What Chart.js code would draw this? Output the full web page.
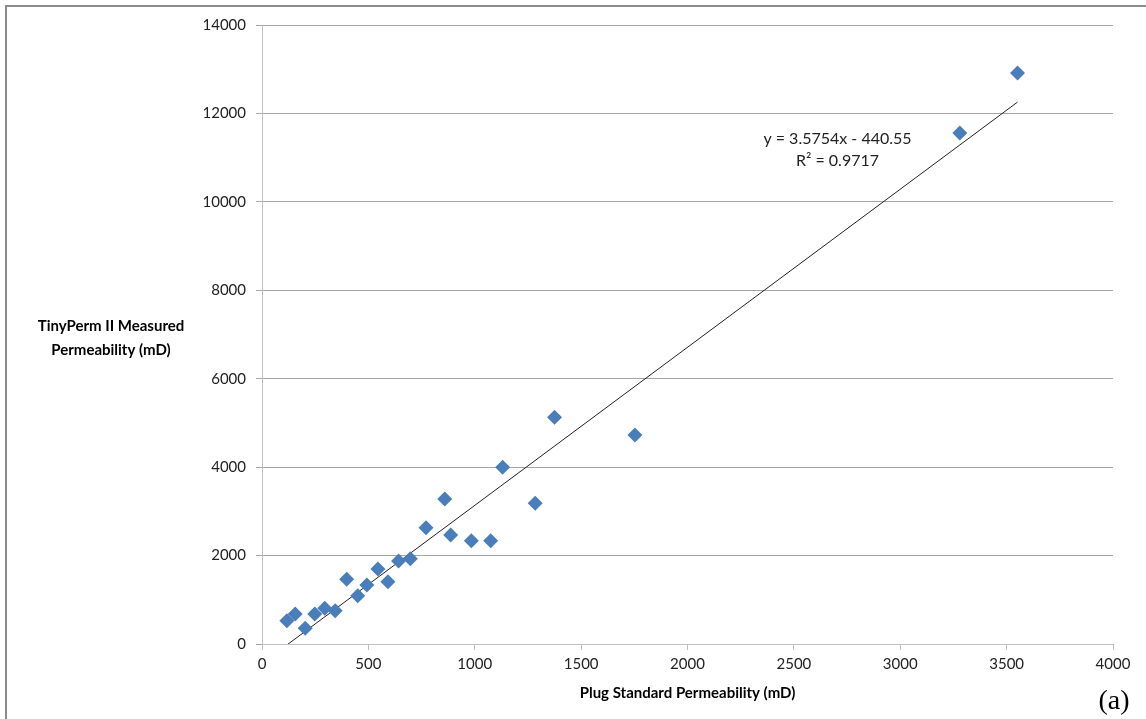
<!DOCTYPE html>
<html>
<head>
<meta charset="utf-8">
<title>TinyPerm II vs Plug Permeability</title>
<script src="https://cdn.jsdelivr.net/npm/chart.js@4.4.1/dist/chart.umd.min.js"></script>
<style>
  html, body { margin: 0; padding: 0; background: #fff; }
  #wrap { position: relative; width: 1146px; height: 719px; }
</style>
</head>
<body>
<div id="wrap"><canvas id="chartPerm" width="1146" height="719"></canvas></div>
<script>
// plug standard permeability (mD)
const plugPerm = [117, 156, 203, 248, 295, 344, 398, 450, 493, 545, 592, 642, 697,
  771, 859, 887, 984, 1075, 1131, 1284, 1375, 1753, 3280, 3551];
// tinyperm II measured permeability (mD)
const tinyPerm = [527, 679, 355, 679, 807, 753, 1463, 1092, 1334, 1696, 1409, 1877, 1929,
  2630, 3279, 2465, 2336, 2336, 3996, 3182, 5127, 4727, 11557, 12914];

// linear trendline as shown on the chart
const trendSlope = 3.5754;
const trendIntercept = -440.55;
const trendLabel = "y = 3.5754x - 440.55";
const r2Label = "R\u00b2 = 0.9717";

const xTitle = "Plug Standard Permeability (mD)";
const yTitle = ["TinyPerm II Measured", "Permeability (mD)"];

const FONT = "Lato, 'Open Sans', sans-serif";

document.addEventListener("DOMContentLoaded", function () {
  if (typeof Chart === "undefined") {
    console.error("Chart.js not loaded");
    return;
  }

  const points = plugPerm.map((x, i) => ({ x: x, y: tinyPerm[i] }));
  const xMin = Math.min(...plugPerm);
  const xMax = Math.max(...plugPerm);
  const trend = [
    { x: xMin, y: trendSlope * xMin + trendIntercept },
    { x: xMax, y: trendSlope * xMax + trendIntercept },
  ];

  const textPlugin = {
    id: "extraText",
    afterDraw(chart) {
      const ctx = chart.ctx;
      const area = chart.chartArea;
      const xs = chart.scales.x;
      const ys = chart.scales.y;
      ctx.save();

      // outer frame
      ctx.strokeStyle = "#8c8c8c";
      ctx.lineWidth = 2;
      ctx.strokeRect(6, 6, 2000, 2000);

      ctx.fillStyle = "#000";
      ctx.textAlign = "center";
      ctx.textBaseline = "middle";

      // y title, horizontal
      ctx.font = "bold 15px " + FONT;
      ctx.fillText(yTitle[0], 111, 326);
      ctx.fillText(yTitle[1], 111, 350);

      // x title
      ctx.fillText(xTitle, (area.left + area.right) / 2, 693);

      // trendline equation
      ctx.font = "16px " + FONT;
      ctx.fillStyle = "#222";
      ctx.fillText(trendLabel, xs.getPixelForValue(2705), ys.getPixelForValue(11420));
      ctx.fillText(r2Label, xs.getPixelForValue(2705), ys.getPixelForValue(10930));

      // panel label
      ctx.font = "28px 'Liberation Serif', serif";
      ctx.fillStyle = "#000";
      ctx.fillText("(a)", 1114, 702);
      ctx.restore();
    },
  };

  new Chart(document.getElementById("chartPerm"), {
    type: "scatter",
    data: {
      datasets: [
        {
          label: "Permeability",
          data: points,
          pointStyle: "rectRot",
          pointRadius: 7.5,
          pointHoverRadius: 7.5,
          backgroundColor: "#4a7ebb",
          borderColor: "#4a7ebb",
          borderWidth: 0,
        },
        {
          label: "Linear",
          type: "line",
          data: trend,
          borderColor: "#222",
          borderWidth: 1,
          pointRadius: 0,
          fill: false,
        },
      ],
    },
    options: {
      responsive: false,
      animation: false,
      layout: { padding: { left: 0, right: 33, top: 25, bottom: 0 } },
      plugins: {
        legend: { display: false },
        tooltip: { enabled: false },
      },
      scales: {
        x: {
          type: "linear",
          min: 0,
          max: 4000,
          ticks: {
            stepSize: 500,
            color: "#222",
            font: { family: FONT, size: 15 },
            padding: 5,
            callback: (v) => String(v),
          },
          grid: { drawOnChartArea: false, drawTicks: true, tickLength: 6, color: "#bfbfbf" },
          border: { color: "#bfbfbf", width: 1 },
          afterFit(scale) { scale.height = 75; },
        },
        y: {
          min: 0,
          max: 14000,
          ticks: {
            stepSize: 2000,
            color: "#222",
            font: { family: FONT, size: 15 },
            padding: 10,
            callback: (v) => String(v),
          },
          grid: { color: "#a6a6a6", tickLength: 6, drawTicks: true },
          border: { color: "#bfbfbf", width: 1 },
          afterFit(scale) { scale.width = 262; },
        },
      },
    },
    plugins: [textPlugin],
  });
});
</script>
</body>
</html>
